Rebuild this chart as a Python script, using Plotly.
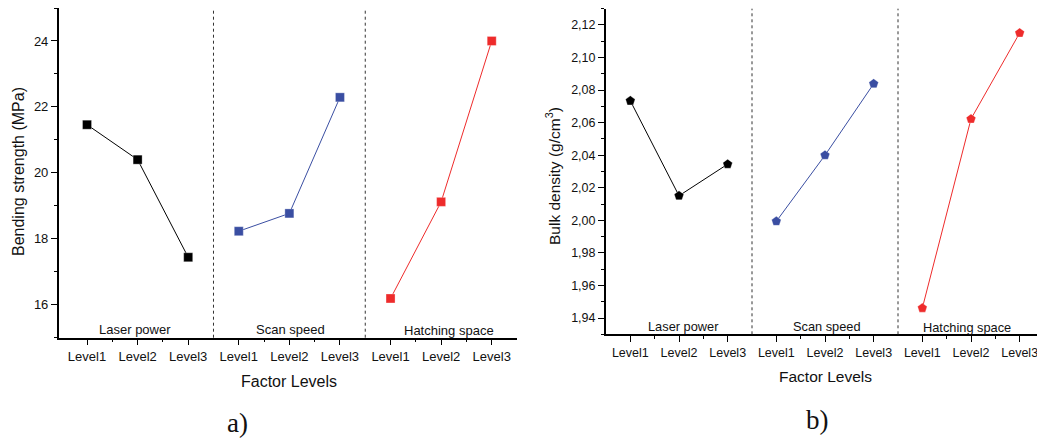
import plotly.graph_objects as go

W, H = 1037, 438

level_labels = ["Level1", "Level2", "Level3"] * 3
factors = ["Laser power", "Scan speed", "Hatching space"]
colors = ["#000000", "#3A4EA2", "#EE2B2B"]

bending = {
    "Laser power": [21.46, 20.40, 17.44],
    "Scan speed": [18.23, 18.77, 22.29],
    "Hatching space": [16.19, 19.12, 24.00],
}
density = {
    "Laser power": [2.0734, 2.0151, 2.0345],
    "Scan speed": [1.9994, 2.0400, 2.0839],
    "Hatching space": [1.9461, 2.0623, 2.1151],
}

fig = go.Figure()

def px_x(p):
    return p / W

def px_y(p):
    return 1 - p / H

for i, f in enumerate(factors):
    xs = [3 * i + 1, 3 * i + 2, 3 * i + 3]
    fig.add_trace(go.Scatter(
        x=xs, y=bending[f], mode="lines+markers",
        line=dict(color=colors[i], width=1),
        marker=dict(symbol="square", size=9, color=colors[i],
                    line=dict(color="rgba(255,255,255,0.6)", width=0.5)),
        xaxis="x", yaxis="y", showlegend=False, cliponaxis=False))
    fig.add_trace(go.Scatter(
        x=xs, y=density[f], mode="lines+markers",
        line=dict(color=colors[i], width=1),
        marker=dict(symbol="pentagon", size=10, color=colors[i],
                    line=dict(color="rgba(255,255,255,0.6)", width=0.5)),
        xaxis="x2", yaxis="y2", showlegend=False, cliponaxis=False))

tickfont = dict(family="Liberation Sans, Arial, sans-serif", size=13, color="#111")
tickfont2 = dict(family="Liberation Sans, Arial, sans-serif", size=12.5, color="#111")

xr1 = [0.44, 9.5]
xr2 = [0.5, 9.356]
yr1 = [15, 25]
yr2 = [1.93, 2.13]

xd1 = [px_x(58.7), px_x(517)]
xd2 = [px_x(606), 1.0]
yd1 = [px_y(337.7), px_y(8)]
yd2 = [px_y(334.3), px_y(8.7)]

common_x = dict(tickmode="array", tickvals=list(range(1, 10)), ticktext=level_labels,
                showgrid=False, zeroline=False, showline=True, linecolor="#000",
                linewidth=1.5, ticks="outside", ticklen=6, tickwidth=1, tickcolor="#000",
                ticklabeloverflow="allow")

fig.update_layout(
    width=W, height=H,
    margin=dict(l=0, r=0, t=0, b=0),
    paper_bgcolor="white", plot_bgcolor="white",
    separators=", ",
    xaxis=dict(domain=xd1, range=xr1, anchor="y", tickfont=tickfont,
               minor=dict(tickvals=[1.5, 2.5, 4.5, 5.5, 7.5, 8.5], ticks="outside", ticklen=3, tickcolor="#000"),
               **common_x),
    yaxis=dict(domain=yd1, range=yr1, anchor="x", tickvals=[16, 18, 20, 22, 24],
               showgrid=False, zeroline=False, showline=True, linecolor="#000", linewidth=1.5,
               ticks="outside", ticklen=6, tickwidth=1, tickcolor="#000", tickfont=tickfont,
               minor=dict(tickvals=[15, 17, 19, 21, 23, 25], ticks="outside", ticklen=3, tickcolor="#000")),
    xaxis3=dict(domain=xd1, range=xr1, overlaying="x", side="top", anchor="y",
                showgrid=False, zeroline=False, showline=True, linecolor="#000", linewidth=1.5,
                tickvals=[1, 1.5, 2, 2.5, 3, 3.5, 4, 4.5, 5, 5.5, 6, 6.5, 7, 7.5, 8, 8.5, 9],
                ticks="inside", ticklen=3, tickcolor="#000", showticklabels=False),
    yaxis3=dict(domain=yd1, range=yr1, overlaying="y", side="right", anchor="x",
                showgrid=False, zeroline=False, showline=True, linecolor="#000", linewidth=2,
                tickvals=[16, 17, 18, 19, 20, 21, 22, 23, 24],
                ticks="inside", ticklen=3, tickcolor="#000", showticklabels=False),
    xaxis2=dict(domain=xd2, range=xr2, anchor="y2", tickfont=tickfont2,
                minor=dict(tickvals=[1.5, 2.5, 4.5, 5.5, 7.5, 8.5], ticks="outside", ticklen=3, tickcolor="#000"),
                **common_x),
    yaxis2=dict(domain=yd2, range=yr2, anchor="x2",
                tickvals=[1.94, 1.96, 1.98, 2.00, 2.02, 2.04, 2.06, 2.08, 2.10, 2.12],
                tickformat=".2f",
                showgrid=False, zeroline=False, showline=True, linecolor="#000", linewidth=2,
                ticks="outside", ticklen=6, tickwidth=1, tickcolor="#000", tickfont=tickfont2,
                minor=dict(tickvals=[1.93, 1.95, 1.97, 1.99, 2.01, 2.03, 2.05, 2.07, 2.09, 2.11, 2.13],
                           ticks="outside", ticklen=3, tickcolor="#000")),
    xaxis4=dict(domain=xd2, range=xr2, overlaying="x2", side="top", anchor="y2",
                showgrid=False, zeroline=False, showline=True, linecolor="#000", linewidth=1.5,
                tickvals=[1, 1.5, 2, 2.5, 3, 3.5, 4, 4.5, 5, 5.5, 6, 6.5, 7, 7.5, 8, 8.5, 9],
                ticks="inside", ticklen=3, tickcolor="#000", showticklabels=False),
)

# separator lines
for xref, yref in [("x", "y"), ("x2", "y2")]:
    for xv in [3.5, 6.5]:
        fig.add_shape(type="line", xref=xref, yref=yref + " domain", x0=xv, x1=xv, y0=0, y1=1,
                      line=dict(color="#333", width=1, dash="dot"))

lab_font = dict(family="Liberation Sans, Arial, sans-serif", size=13, color="#111")
ann = []
for f, x, y in [("Laser power", 135, 329), ("Scan speed", 290, 329), ("Hatching space", 449, 330)]:
    ann.append(dict(text=f, x=px_x(x), y=px_y(y), font=lab_font))
for f, x, y in [("Laser power", 683.3, 326), ("Scan speed", 826.7, 326), ("Hatching space", 966.7, 327.7)]:
    ann.append(dict(text=f, x=px_x(x), y=px_y(y), font=dict(lab_font, size=12.8)))
title_font = dict(family="Liberation Sans, Arial, sans-serif", size=16, color="#111")
ann.append(dict(text="Factor Levels", x=px_x(289), y=px_y(381), font=title_font))
ann.append(dict(text="Factor Levels", x=px_x(825.7), y=px_y(376.7), font=dict(title_font, size=15.5)))
ann.append(dict(text="Bending strength (MPa)", x=px_x(18), y=px_y(172), textangle=-90, font=title_font))
ann.append(dict(text="Bulk density (g/cm<sup>3</sup>)", x=px_x(553), y=px_y(176), textangle=-90,
                font=dict(title_font, size=15.5)))
serif = dict(family="Liberation Serif, DejaVu Serif, serif", size=27, color="#111")
ann.append(dict(text="a)", x=px_x(237), y=px_y(423), font=serif))
ann.append(dict(text="b)", x=px_x(817.7), y=px_y(420), font=serif))

for a in ann:
    a.update(xref="paper", yref="paper", showarrow=False, xanchor="center", yanchor="middle")
fig.update_layout(annotations=ann)

fig.write_html("out.html", config={"displayModeBar": False},
               post_script="document.body.style.margin='0px';document.body.style.overflow='hidden';")
